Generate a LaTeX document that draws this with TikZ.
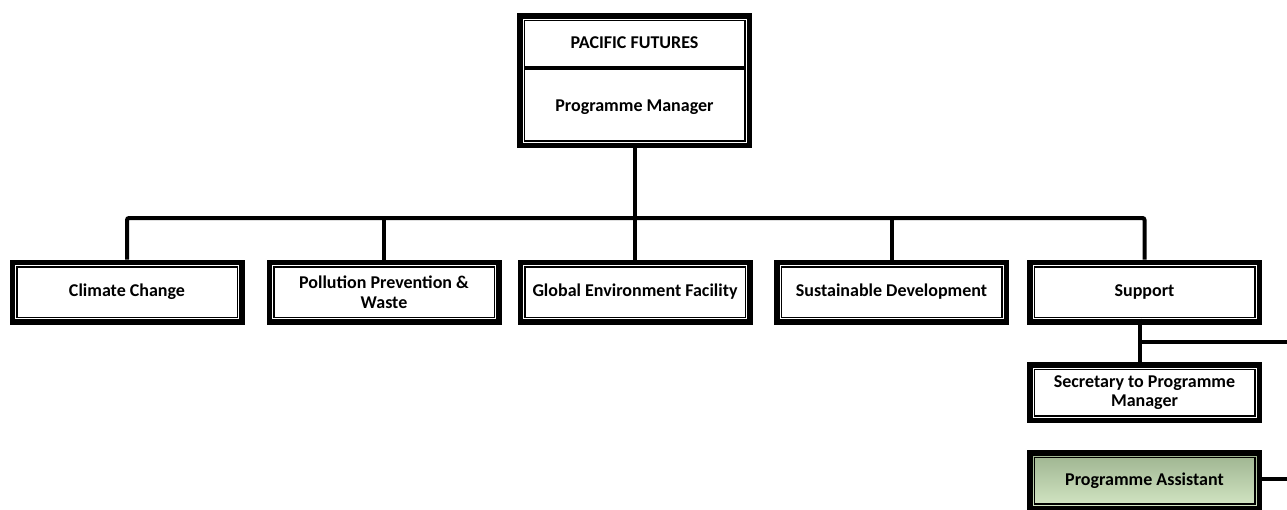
\documentclass[tikz,border=0pt]{standalone}
\usepackage{fontspec}
\setmainfont{Carlito}
\usetikzlibrary{backgrounds}
\definecolor{pagreentop}{HTML}{9DB38F}
\definecolor{pagreenbot}{HTML}{D4E7C5}
\tikzset{
  x=1pt, y=-1pt,
  orgbox/.style={rectangle, minimum width=229.5pt, minimum height=59.5pt, inner sep=2pt,
    align=center, font=\bfseries\fontsize{18}{19.5}\selectfont,
    fill=white, draw=black, line width=5.5pt,
    path picture={\draw[line width=1.5pt]
      ([shift={(4.5pt,-4.5pt)}]path picture bounding box.north west) rectangle
      ([shift={(-4.5pt,4.5pt)}]path picture bounding box.south east);}},
  smallbox/.style={orgbox, minimum height=55.5pt},
  conn/.style={draw=black, line width=4pt, rounded corners=2pt},
  label/.style={font=\bfseries\fontsize{18}{19.5}\selectfont, inner sep=0pt}
}
\begin{document}
\begin{tikzpicture}
\useasboundingbox (0,0) rectangle (1287,509);
\clip (0,0) rectangle (1287,509);
% boxes
\node[orgbox, minimum height=129.5pt] (pm) at (634.5,80.5) {};
\node[orgbox] (cc) at (127,292) {Climate Change};
\node[orgbox] (ppw) at (384,292) {Pollution Prevention \&\\Waste};
\node[orgbox] (gef) at (635,292) {Global Environment Facility};
\node[orgbox] (sd) at (891.5,292) {Sustainable Development};
\node[orgbox] (sup) at (1144.5,292) {Support};
\node[smallbox] (sec) at (1144.5,392.5) {Secretary to Programme\\Manager};
\node[smallbox, top color=pagreentop, bottom color=pagreenbot] (pa) at (1144.5,480.5) {Programme Assistant};
% top box contents
\node[label] (pf) at (634.5,43) {PACIFIC FUTURES};
\node[label] (pmt) at (634.5,107) {Programme Manager};
\coordinate (divy) at (0,68);
\draw[line width=4pt] ([xshift=8pt]pm.west |- divy) -- ([xshift=-8pt]pm.east |- divy);
% tree connectors (behind boxes)
\coordinate (bar) at (634.5,218);
\begin{scope}[on background layer]
\draw[conn] (pm.south) -- (bar);
\draw[conn] (cc.north) |- (bar) -| (sup.north);
\draw[conn] (ppw.north) -- (ppw.north |- bar);
\draw[conn] (gef.north) -- (gef.north |- bar);
\draw[conn] (sd.north) -- (sd.north |- bar);
\end{scope}
% support branch
\coordinate (suppx) at (1140,0);
\coordinate (rightA) at (1290,342);
\coordinate (rightB) at (1290,479);
\draw[line width=4pt] ([yshift=6pt]suppx |- sup.south) -- ([yshift=-3pt]suppx |- sec.north);
\draw[line width=4pt] (suppx |- rightA) -- (rightA);
\draw[line width=4pt] (pa.east |- rightB) -- (rightB);
\end{tikzpicture}
\end{document}
